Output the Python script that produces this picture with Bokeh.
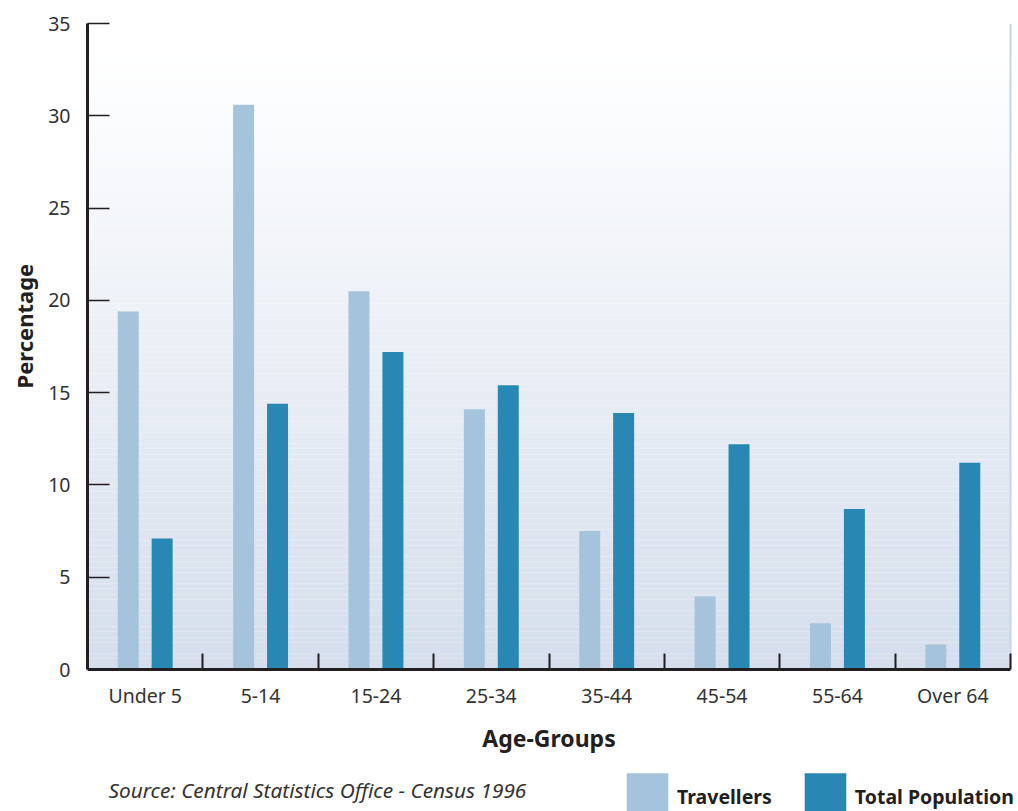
import numpy as np
from bokeh.plotting import figure
from bokeh.models import (ColumnDataSource, FixedTicker, Label, Legend, LegendItem, Title)
from bokeh.transform import dodge
from bokeh.embed import file_html
from bokeh.resources import INLINE

categories = ["Under 5", "5-14", "15-24", "25-34", "35-44", "45-54", "55-64", "Over 64"]
travellers = [19.4, 30.6, 20.5, 14.1, 7.5, 3.95, 2.5, 1.35]
total_population = [7.1, 14.4, 17.2, 15.4, 13.9, 12.2, 8.7, 11.2]
y_ticks = [0, 5, 10, 15, 20, 25, 30, 35]
Y_MAX = 35

FONT = "Noto Sans"
TXT = "#333333"
AXIS = "#231f20"
LIGHT = "#a5c4dc"
DARK = "#2888b3"

# layout (pixels)
W, H = 1018, 811
LEFT, TOP, RIGHT_PAD, BOTTOM_GAP = 87, 23, 8, 142
ncat = len(categories)
px_per_unit = (H - TOP - BOTTOM_GAP) / Y_MAX
px_per_cat = (W - LEFT - RIGHT_PAD) / ncat
y_low = -BOTTOM_GAP / px_per_unit
x_high = ncat + RIGHT_PAD / px_per_cat

x_pos = np.arange(ncat) + 0.5
src = ColumnDataSource(dict(x=x_pos, cat=categories, trav=travellers, tot=total_population))

p = figure(width=W, height=H, x_range=(0, x_high), y_range=(y_low, Y_MAX),
           output_backend="svg", toolbar_location=None,
           min_border_left=LEFT, min_border_top=TOP, min_border_bottom=0, min_border_right=0)
p.background_fill_color = "white"
p.border_fill_color = "white"
p.outline_line_color = None
p.grid.visible = False

# vertical gradient background (style)
n = 120
edges = np.linspace(0, Y_MAX, n + 1)
top_c = np.array([255, 255, 255])
bot_c = np.array([213, 222, 236])
cols = []
for i in range(n):
    t = 1 - (edges[i] + edges[i + 1]) / 2 / Y_MAX
    t = max(0.0, (t - 0.04) / 0.96)
    c = top_c * (1 - t) + bot_c * t
    cols.append("#%02x%02x%02x" % tuple(int(round(v)) for v in c))
p.quad(left=0, right=ncat, bottom=edges[:-1], top=edges[1:],
       fill_color=cols, line_color=None)

# thin light border on the right of the plotting area
p.segment(x0=[ncat], y0=[0], x1=[ncat], y1=[Y_MAX], line_color="#c4d5e6", line_width=2)

r1 = p.vbar(x=dodge("x", -0.147, range=p.x_range), top="trav", width=0.182, source=src,
            fill_color=LIGHT, line_color=None)
r2 = p.vbar(x=dodge("x", 0.147, range=p.x_range), top="tot", width=0.182, source=src,
            fill_color=DARK, line_color=None)

# x axis, drawn at value 0
xa = p.xaxis[0]
xa.fixed_location = 0
xa.bounds = (0, ncat)
xa.ticker = FixedTicker(ticks=list(x_pos), minor_ticks=list(range(1, ncat + 1)))
xa.major_label_overrides = {float(v): c for v, c in zip(x_pos, categories)}
xa.major_tick_in = 0
xa.major_tick_out = 0
xa.minor_tick_in = 16
xa.minor_tick_out = 0
xa.minor_tick_line_color = AXIS
xa.minor_tick_line_width = 2
xa.axis_line_color = AXIS
xa.axis_line_width = 3
xa.major_label_text_font = FONT
xa.major_label_text_font_size = "19.5px"
xa.major_label_text_color = TXT
xa.major_label_standoff = 12
xa.axis_label = "Age-Groups"
xa.axis_label_text_font = FONT
xa.axis_label_text_font_style = "bold"
xa.axis_label_text_font_size = "23px"
xa.axis_label_text_color = AXIS
xa.axis_label_standoff = 10

# y axis
ya = p.yaxis[0]
ya.bounds = (0, Y_MAX)
ya.ticker = FixedTicker(ticks=y_ticks, minor_ticks=[])
ya.major_tick_in = 22
ya.major_tick_out = 0
ya.major_tick_line_color = AXIS
ya.major_tick_line_width = 1.5
ya.minor_tick_in = 0
ya.minor_tick_out = 0
ya.axis_line_color = AXIS
ya.axis_line_width = 3
ya.major_label_text_font = FONT
ya.major_label_text_font_size = "19.5px"
ya.major_label_text_color = TXT
ya.major_label_standoff = 17
ya.major_label_orientation = "horizontal"
ya.axis_label = None

# y axis title, placed beside the 0-35 span
p.add_layout(Title(text="Percentage", align="left", offset=423, standoff=13,
                   text_font=FONT, text_font_style="bold", text_font_size="22px",
                   text_color=AXIS), "left")

# source note
p.add_layout(Label(x=21, y=22, x_units="screen", y_units="screen",
                   text="Source: Central Statistics Office - Census 1996",
                   text_font=FONT, text_font_style="italic", text_baseline="alphabetic",
                   text_font_size="20.8px", text_color=TXT))

legend = Legend(items=[LegendItem(label="Travellers", renderers=[r1]),
                       LegendItem(label="Total Population", renderers=[r2])],
                orientation="horizontal", location=(534, -14),
                glyph_width=52, glyph_height=58, label_height=58,
                label_text_font=FONT, label_text_font_style="bold",
                label_text_font_size="19.5px", label_text_color=AXIS,
                spacing=27, padding=0, margin=0, border_line_color=None,
                background_fill_alpha=0, label_standoff=4)
p.add_layout(legend, "center")

open("out.html", "w").write(file_html(p, INLINE))
